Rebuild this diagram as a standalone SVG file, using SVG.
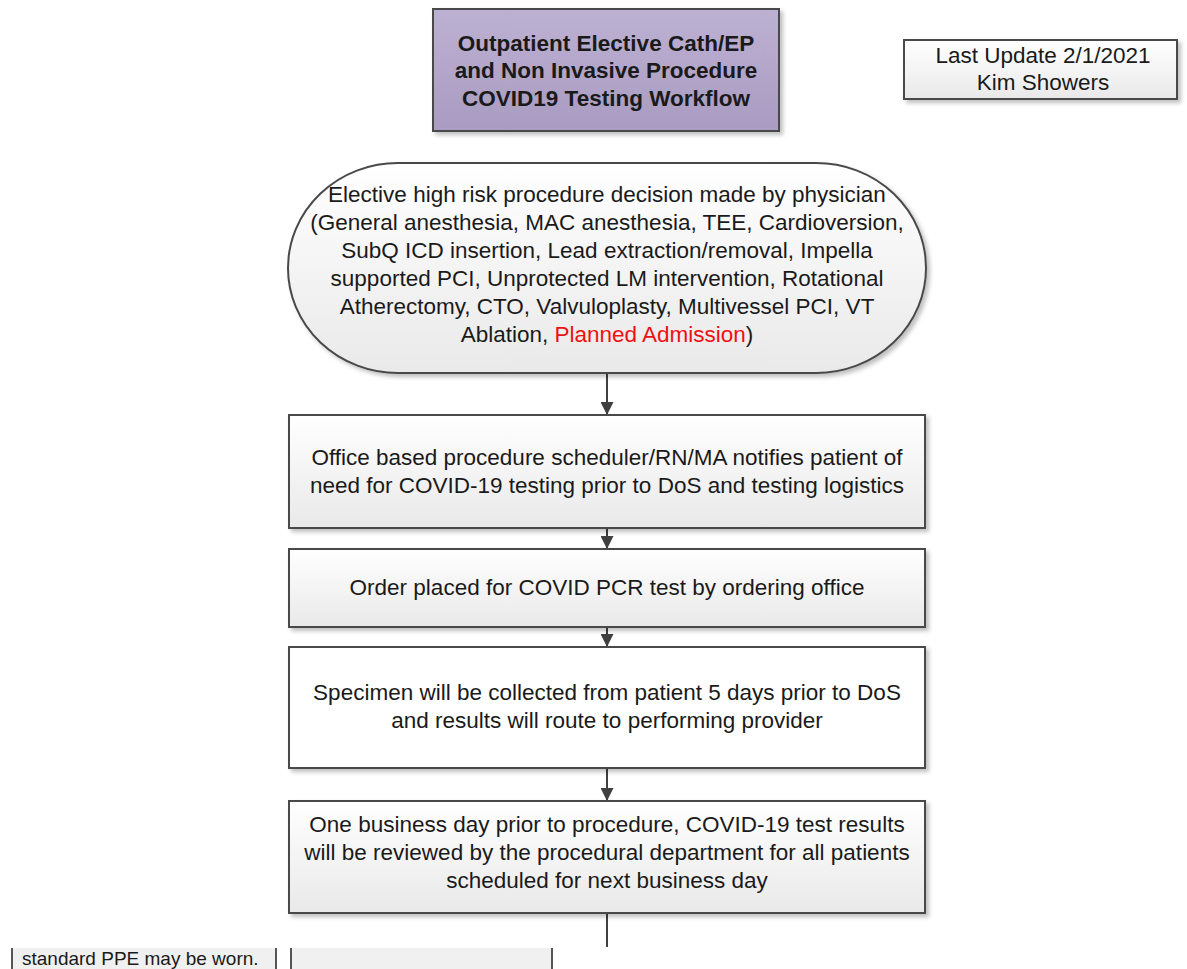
<svg xmlns="http://www.w3.org/2000/svg" width="1187" height="969" viewBox="0 0 1187 969">
<style>
  text { font-family: "Liberation Sans", Arial, sans-serif; font-size: 22.5px; fill: #1a1a1a; text-anchor: middle; }
  .title { font-weight: bold; }
  .red { fill: #ee1111; }
  .shape { stroke: #4a4a4a; stroke-width: 2; }
  .conn { stroke: #404040; stroke-width: 2; fill: none; }
  .small { font-size: 19px; text-anchor: start; }
</style>
<defs>
  <linearGradient id="gGray" x1="0" y1="0" x2="0" y2="1">
    <stop offset="0" stop-color="#ffffff"/>
    <stop offset="1" stop-color="#e9e9e9"/>
  </linearGradient>
  <linearGradient id="gPurple" x1="0" y1="0" x2="0" y2="1">
    <stop offset="0" stop-color="#bdb1d3"/>
    <stop offset="1" stop-color="#a99bc1"/>
  </linearGradient>
  <filter id="sh" x="-5%" y="-5%" width="115%" height="125%">
    <feDropShadow dx="3" dy="3" stdDeviation="2" flood-color="#000" flood-opacity="0.25"/>
  </filter>
  <marker id="arr" markerWidth="13" markerHeight="13" refX="12" refY="6.5" orient="auto" markerUnits="userSpaceOnUse">
    <path d="M0,0 L13,6.5 L0,13 Z" fill="#404040"/>
  </marker>
</defs>

<g id="connectors">
  <line class="conn" x1="607" y1="374" x2="607" y2="414" marker-end="url(#arr)"/>
  <line class="conn" x1="607" y1="529" x2="607" y2="548" marker-end="url(#arr)"/>
  <line class="conn" x1="607" y1="628" x2="607" y2="646" marker-end="url(#arr)"/>
  <line class="conn" x1="607" y1="769" x2="607" y2="800" marker-end="url(#arr)"/>
  <line class="conn" x1="607" y1="914" x2="607" y2="947"/>
</g>

<g id="title">
  <rect class="shape" x="433" y="9" width="346" height="122" fill="url(#gPurple)" filter="url(#sh)"/>
  <text class="title" x="606" y="51">Outpatient Elective Cath/EP</text>
  <text class="title" x="606" y="78">and Non Invasive Procedure</text>
  <text class="title" x="606" y="106">COVID19 Testing Workflow</text>
</g>

<g id="last-update">
  <rect class="shape" x="904" y="40" width="273" height="59" fill="url(#gGray)" filter="url(#sh)"/>
  <text x="1043" y="63">Last Update 2/1/2021</text>
  <text x="1043" y="90">Kim Showers</text>
</g>

<g id="decision">
  <rect class="shape" x="288" y="163" width="638" height="210" rx="110" ry="105" fill="url(#gGray)" filter="url(#sh)"/>
  <text x="607" y="202">Elective high risk procedure decision made by physician</text>
  <text x="607" y="230">(General anesthesia, MAC anesthesia, TEE, Cardioversion,</text>
  <text x="607" y="258">SubQ ICD insertion, Lead extraction/removal, Impella</text>
  <text x="607" y="286">supported PCI, Unprotected LM intervention, Rotational</text>
  <text x="607" y="314">Atherectomy, CTO, Valvuloplasty, Multivessel PCI, VT</text>
  <text x="607" y="342">Ablation, <tspan class="red">Planned Admission</tspan>)</text>
</g>

<g id="notify">
  <rect class="shape" x="289" y="415" width="636" height="113" fill="url(#gGray)" filter="url(#sh)"/>
  <text x="607" y="465">Office based procedure scheduler/RN/MA notifies patient of</text>
  <text x="607" y="493">need for COVID-19 testing prior to DoS and testing logistics</text>
</g>

<g id="order">
  <rect class="shape" x="289" y="549" width="636" height="78" fill="url(#gGray)" filter="url(#sh)"/>
  <text x="607" y="595">Order placed for COVID PCR test by ordering office</text>
</g>

<g id="specimen">
  <rect class="shape" x="289" y="647" width="636" height="121" fill="#ffffff" filter="url(#sh)"/>
  <text x="607" y="700">Specimen will be collected from patient 5 days prior to DoS</text>
  <text x="607" y="728">and results will route to performing provider</text>
</g>

<g id="review">
  <rect class="shape" x="289" y="801" width="636" height="112" fill="url(#gGray)" filter="url(#sh)"/>
  <text x="607" y="832">One business day prior to procedure, COVID-19 test results</text>
  <text x="607" y="860">will be reviewed by the procedural department for all patients</text>
  <text x="607" y="888">scheduled for next business day</text>
</g>

<g id="ppe-note">
  <rect x="12" y="948" width="264" height="21" fill="#f0f0f0"/>
  <line x1="12" y1="948" x2="12" y2="969" stroke="#555" stroke-width="2"/>
  <line x1="276" y1="948" x2="276" y2="969" stroke="#555" stroke-width="2"/>
  <text class="small" x="22" y="965">standard PPE may be worn.</text>
</g>

<g id="empty-note">
  <rect x="291" y="948" width="261" height="21" fill="#f0f0f0"/>
  <line x1="291" y1="948" x2="291" y2="969" stroke="#555" stroke-width="2"/>
  <line x1="552" y1="948" x2="552" y2="969" stroke="#555" stroke-width="2"/>
</g>
</svg>
